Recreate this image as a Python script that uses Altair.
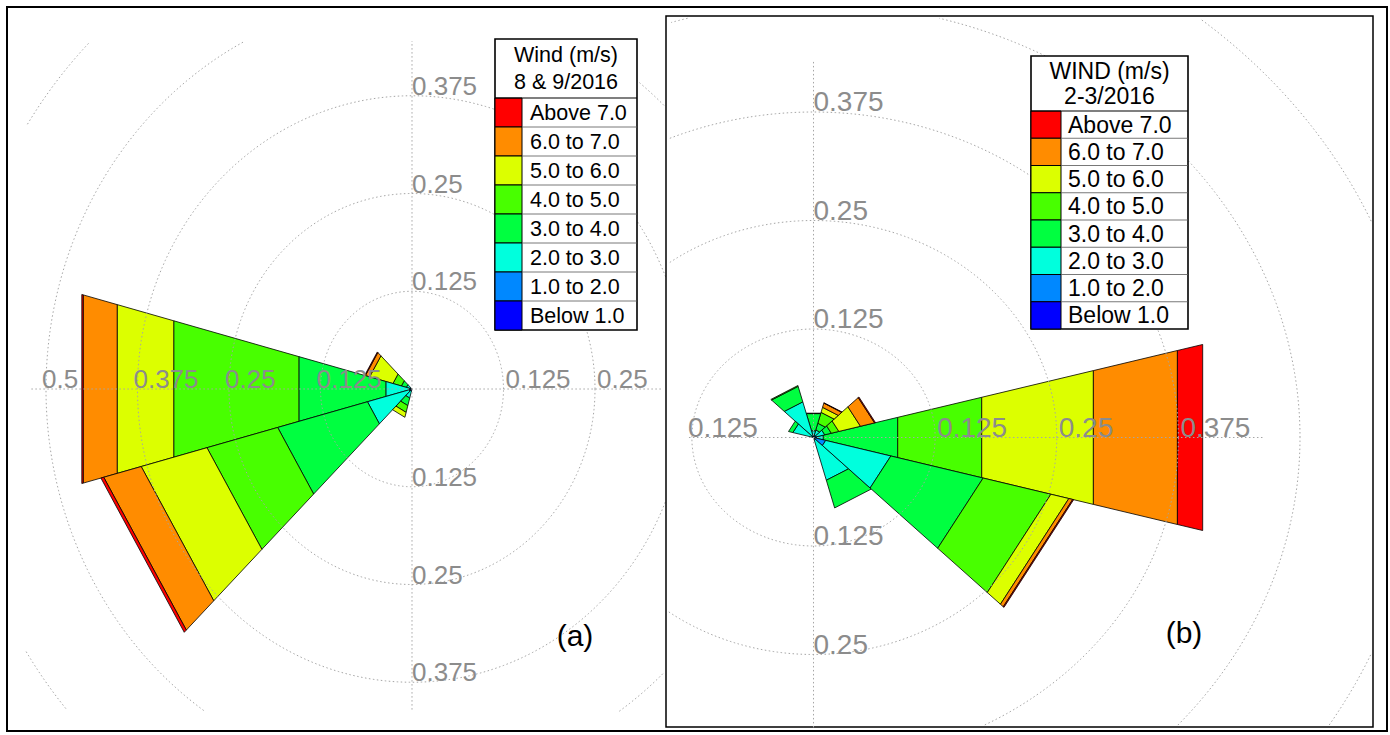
import math
import altair as alt
import pandas as pd

W, H = 1390, 735
FONT = "Liberation Sans"

# Wind-speed classes and their colours (low -> high)
SPEED_BINS = ["Below 1.0", "1.0 to 2.0", "2.0 to 3.0", "3.0 to 4.0",
              "4.0 to 5.0", "5.0 to 6.0", "6.0 to 7.0", "Above 7.0"]
BIN_COLORS = ["#0000ff", "#0088ff", "#00ffdd", "#00ff40",
              "#48ff00", "#dcff00", "#ff8c00", "#ff0000"]

# (a) Aug & Sep 2016: relative frequency of each speed class per 30-degree sector
A_BEARINGS = [300, 270, 240, 210]
A_WNW = [0.0005, 0.0005, 0.007, 0.007, 0.012, 0.033, 0.006, 0.001]
A_W = [0.001, 0.003, 0.033, 0.123, 0.177, 0.080, 0.048, 0.002]
A_WSW = [0.001, 0.003, 0.059, 0.127, 0.100, 0.093, 0.053, 0.004]
A_SSW = [0.001, 0.002, 0.009, 0.010, 0.009, 0.0065, 0.0, 0.0]
A_FREQ = [A_WNW, A_W, A_WSW, A_SSW]

# (b) Feb-Mar 2016
B_BEARINGS = [90, 60, 30, 0, 330, 300, 150, 120]
B_E = [0.001, 0.002, 0.0074, 0.0792, 0.0894, 0.1188, 0.0894, 0.0269]
B_ENE = [0.001, 0.002, 0.009, 0.007, 0.008, 0.023, 0.015, 0.001]
B_NNE = [0.001, 0.002, 0.006, 0.008, 0.013, 0.006, 0.005, 0.0005]
B_N = [0.001, 0.001, 0.006, 0.0205, 0.0005, 0.0, 0.0, 0.0]
B_NNW = [0.001, 0.001, 0.0405, 0.0185, 0.001, 0.0, 0.0, 0.0]
B_WNW = [0.001, 0.001, 0.020, 0.0046, 0.0, 0.0, 0.0, 0.0]
B_SSE = [0.001, 0.002, 0.048, 0.033, 0.0, 0.0, 0.0, 0.0]
B_ESE = [0.001, 0.012, 0.0693, 0.0982, 0.0721, 0.0191, 0.0041, 0.001]
B_FREQ = [B_E, B_ENE, B_NNE, B_N, B_NNW, B_WNW, B_SSE, B_ESE]

RINGS = [0.125, 0.25, 0.375, 0.5, 0.625]
A_LABELS = {"left": [0.125, 0.25, 0.375, 0.5], "right": [0.125, 0.25],
            "up": [0.125, 0.25, 0.375], "down": [0.125, 0.25, 0.375]}
B_LABELS = {"left": [0.125], "right": [0.125, 0.25, 0.375],
            "up": [0.125, 0.25, 0.375], "down": [0.125, 0.25]}

A_TITLE = ["Wind (m/s)", "8 & 9/2016"]
B_TITLE = ["WIND (m/s)", "2-3/2016"]

SECTOR = 30.0
GRID = "#a6a6a6"


def label_text(v):
    return ("%g" % v)


def panel(freqs, bearings, cx, cy, kx, ky, clip_box, axis_ext, labels, font_size):
    """One wind rose. cx, cy: centre in page pixels; kx, ky: pixels per unit."""
    xs = alt.Scale(domain=[-cx / kx, (W - cx) / kx], nice=False, zero=False)
    ys = alt.Scale(domain=[-(H - cy) / ky, cy / ky], nice=False, zero=False)
    X = lambda f: alt.X(f, type="quantitative", scale=xs, axis=None)
    Y = lambda f: alt.Y(f, type="quantitative", scale=ys, axis=None)

    # wedge bands: straight-ended sectors stacked outward
    rows = []
    half = math.radians(SECTOR / 2)
    for bearing, f in zip(bearings, freqs):
        th = math.radians(90 - bearing)
        r0 = 0.0
        for k, v in enumerate(f):
            r1 = r0 + v
            if v > 0:
                pid = "%d-%d" % (bearing, k)
                pts = [(r0, th - half), (r1, th - half), (r1, th + half),
                       (r0, th + half), (r0, th - half)]
                for i, (r, a) in enumerate(pts):
                    rows.append(dict(pid=pid, i=i, x=r * math.cos(a),
                                     y=r * math.sin(a), fill=BIN_COLORS[k]))
            r0 = r1
    wedges = alt.Chart(pd.DataFrame(rows)).mark_line(
        filled=True, stroke="black", strokeWidth=0.8, strokeJoin="round"
    ).encode(x=X("x"), y=Y("y"), detail="pid:N", order="i:Q",
             fill=alt.Fill("fill:N", scale=None))

    # dotted rings, kept inside the panel's drawing box
    l, t, r_, b = clip_box
    xl, xr = (l - cx) / kx, (r_ - cx) / kx
    yb, yt = -(b - cy) / ky, (cy - t) / ky
    ring_rows = []
    seg = 0
    for rad in RINGS:
        inside_prev = False
        for d in range(0, 721):
            a = math.radians(d * 0.5)
            x, y = rad * math.cos(a), rad * math.sin(a)
            inside = xl <= x <= xr and yb <= y <= yt
            if inside:
                if not inside_prev:
                    seg += 1
                ring_rows.append(dict(seg=seg, i=d, x=x, y=y))
            inside_prev = inside
    rings = alt.Chart(pd.DataFrame(ring_rows)).mark_line(
        stroke=GRID, strokeWidth=1, strokeDash=[1.5, 2.5]
    ).encode(x=X("x"), y=Y("y"), detail="seg:N", order="i:Q")

    x0, x1, y0, y1 = axis_ext
    axes_df = pd.DataFrame([dict(x=x0, y=0.0, x2=x1, y2=0.0),
                            dict(x=0.0, y=y0, x2=0.0, y2=y1)])
    axes = alt.Chart(axes_df).mark_rule(
        stroke=GRID, strokeWidth=1, strokeDash=[1.5, 2.5]
    ).encode(x=X("x"), y=Y("y"), x2="x2:Q", y2="y2:Q")

    lab_rows = []
    for v in labels["left"]:
        lab_rows.append(dict(x=-v, y=0.0, t=label_text(v), dx=-4))
    for v in labels["right"]:
        lab_rows.append(dict(x=v, y=0.0, t=label_text(v), dx=2))
    for v in labels["up"]:
        lab_rows.append(dict(x=0.0, y=v, t=label_text(v), dx=0))
    for v in labels["down"]:
        lab_rows.append(dict(x=0.0, y=-v, t=label_text(v), dx=0))
    lab_df = pd.DataFrame(lab_rows)
    layers = []
    for off in sorted(lab_df["dx"].unique()):
        layers.append(alt.Chart(lab_df[lab_df["dx"] == off]).mark_text(
            align="left", baseline="alphabetic", font=FONT, fontSize=font_size,
            color="#8c8c8c", dy=-1, dx=int(off)
        ).encode(x=X("x"), y=Y("y"), text="t:N"))

    return alt.layer(wedges, rings, axes, *layers)


PX = alt.Scale(domain=[0, W], nice=False, zero=False)
PY = alt.Scale(domain=[H, 0], nice=False, zero=False)


def px_rect(df, **kw):
    return alt.Chart(df).mark_rect(**kw).encode(
        x=alt.X("x:Q", scale=PX, axis=None), x2="x2:Q",
        y=alt.Y("y:Q", scale=PY, axis=None), y2="y2:Q")


def px_rule(df, **kw):
    return alt.Chart(df).mark_rule(**kw).encode(
        x=alt.X("x:Q", scale=PX, axis=None), x2="x2:Q",
        y=alt.Y("y:Q", scale=PY, axis=None), y2="y2:Q")


def px_text(df, **kw):
    return alt.Chart(df).mark_text(**kw).encode(
        x=alt.X("x:Q", scale=PX, axis=None),
        y=alt.Y("y:Q", scale=PY, axis=None), text="t:N")


def legend(left, top, right, sep, bottom, sw_right, title, title_ys, text_x, fs):
    n = len(SPEED_BINS)
    rh = (bottom - sep) / n
    box = px_rect(pd.DataFrame([dict(x=left, x2=right, y=top, y2=bottom)]),
                  fill="white", stroke="black", strokeWidth=1.6)
    names = SPEED_BINS[::-1]
    cols = BIN_COLORS[::-1]
    sw = pd.DataFrame([dict(x=left, x2=sw_right, y=sep + k * rh, y2=sep + (k + 1) * rh,
                            c=cols[k]) for k in range(n)])
    swatch = alt.Chart(sw).mark_rect(stroke="black", strokeWidth=1).encode(
        x=alt.X("x:Q", scale=PX, axis=None), x2="x2:Q",
        y=alt.Y("y:Q", scale=PY, axis=None), y2="y2:Q",
        fill=alt.Fill("c:N", scale=None))
    seps = px_rule(pd.DataFrame([dict(x=sw_right, x2=right, y=sep + k * rh, y2=sep + k * rh)
                                 for k in range(1, n)]), stroke="#555555", strokeWidth=0.8)
    head = px_rule(pd.DataFrame([dict(x=left, x2=right, y=sep, y2=sep)]),
                   stroke="black", strokeWidth=1.2)
    ttl = px_text(pd.DataFrame([dict(x=(left + right) / 2, y=yy, t=tt)
                                for tt, yy in zip(title, title_ys)]),
                  align="center", baseline="middle", font=FONT, fontSize=fs, color="black")
    lbl = px_text(pd.DataFrame([dict(x=text_x, y=sep + (k + 0.5) * rh + 1, t=names[k])
                                for k in range(n)]),
                  align="left", baseline="middle", font=FONT, fontSize=fs, color="black")
    return alt.layer(box, swatch, seps, head, ttl, lbl)


outer = px_rect(pd.DataFrame([dict(x=7, x2=1387, y=7, y2=731)]),
                fill="white", stroke="black", strokeWidth=2)
frame_b = px_rect(pd.DataFrame([dict(x=666, x2=1373, y=16, y2=727)]),
                  fill="white", stroke="black", strokeWidth=1.5)

rose_a = panel(A_FREQ, A_BEARINGS, 412, 389, 732, 782,
               (25, 42, 666, 712), (-0.52, 0.34, -0.41, 0.445), A_LABELS, 26)
rose_b = panel(B_FREQ, B_BEARINGS, 813.5, 437.5, 973, 868,
               (668, 18, 1372, 726), (-0.128, 0.464, -0.334, 0.435), B_LABELS, 28)

leg_a = legend(495, 39, 637, 98, 330, 522, A_TITLE, [56, 83], 530, 21.5)
leg_b = legend(1031, 56, 1188, 111, 329, 1061, B_TITLE, [72, 97], 1068, 23)

tags = px_text(pd.DataFrame([dict(x=575, y=637, t="(a)"), dict(x=1184, y=634, t="(b)")]),
               align="center", baseline="middle", font=FONT, fontSize=30, color="black")

chart = alt.layer(outer, rose_a, frame_b, rose_b, leg_a, leg_b, tags).resolve_scale(
    x="independent", y="independent"
).properties(
    width=W, height=H, padding=0, autosize="none", background="white"
).configure_view(stroke=None)

chart.save("out.html", embed_options={"renderer": "svg", "actions": False})
